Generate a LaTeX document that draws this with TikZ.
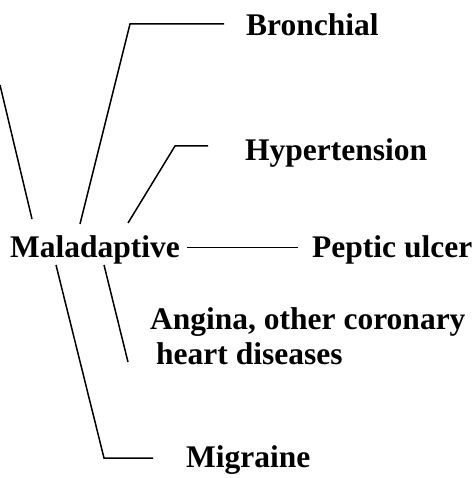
\documentclass[tikz,border=0pt]{standalone}
\usepackage{fontspec}
\setmainfont{Liberation Serif}
\usepackage{tikz}
\usetikzlibrary{positioning}

\begin{document}
\begin{tikzpicture}[
  x=1pt, y=-1pt,
  lbl/.style={
    anchor=base west,
    inner sep=0pt,
    font=\fontsize{31.5}{37}\selectfont\bfseries
  },
  link/.style={line width=1.5pt}
]
  \useasboundingbox (0,0) rectangle (473,478);

  \node[lbl] (malad) at (10,257) {Maladaptive};
  \node[lbl] (bronch) at (246,36) {Bronchial};
  \node[lbl] (hyper) at (245,161) {Hypertension};
  \node[lbl] (peptic) at (312,257) {Peptic ulcer};
  \node[lbl] (angina) at (150,329) {Angina, other coronary};
  \node[lbl] (heart) at (156,364) {heart diseases};
  \node[lbl] (migr) at (186,467) {Migraine};

  % loose ends of the spokes
  \coordinate (edge-top) at (0,85);
  \coordinate (edge-foot) at (32,219);
  \coordinate (bronch-foot) at (80,224);
  \coordinate (bronch-bend) at (130,24);
  \coordinate (bronch-tip) at (224,24);
  \coordinate (hyper-foot) at (128,223);
  \coordinate (hyper-bend) at (175,146);
  \coordinate (hyper-tip) at (208,146);
  \coordinate (angina-top) at (104,265);
  \coordinate (angina-tip) at (128,362);
  \coordinate (migr-top) at (56,265);
  \coordinate (migr-bend) at (104,458);
  \coordinate (migr-tip) at (153,458);

  \draw[link] (edge-top) -- (edge-foot);
  \draw[link] (bronch-foot) -- (bronch-bend) -- (bronch-tip);
  \draw[link] (hyper-foot) -- (hyper-bend) -- (hyper-tip);
  \draw[link] ([xshift=7pt,yshift=2pt]malad.east) -- ([xshift=-14pt,yshift=2pt]peptic.west);
  \draw[link] (angina-top) -- (angina-tip);
  \draw[link] (migr-top) -- (migr-bend) -- (migr-tip);
\end{tikzpicture}
\end{document}
